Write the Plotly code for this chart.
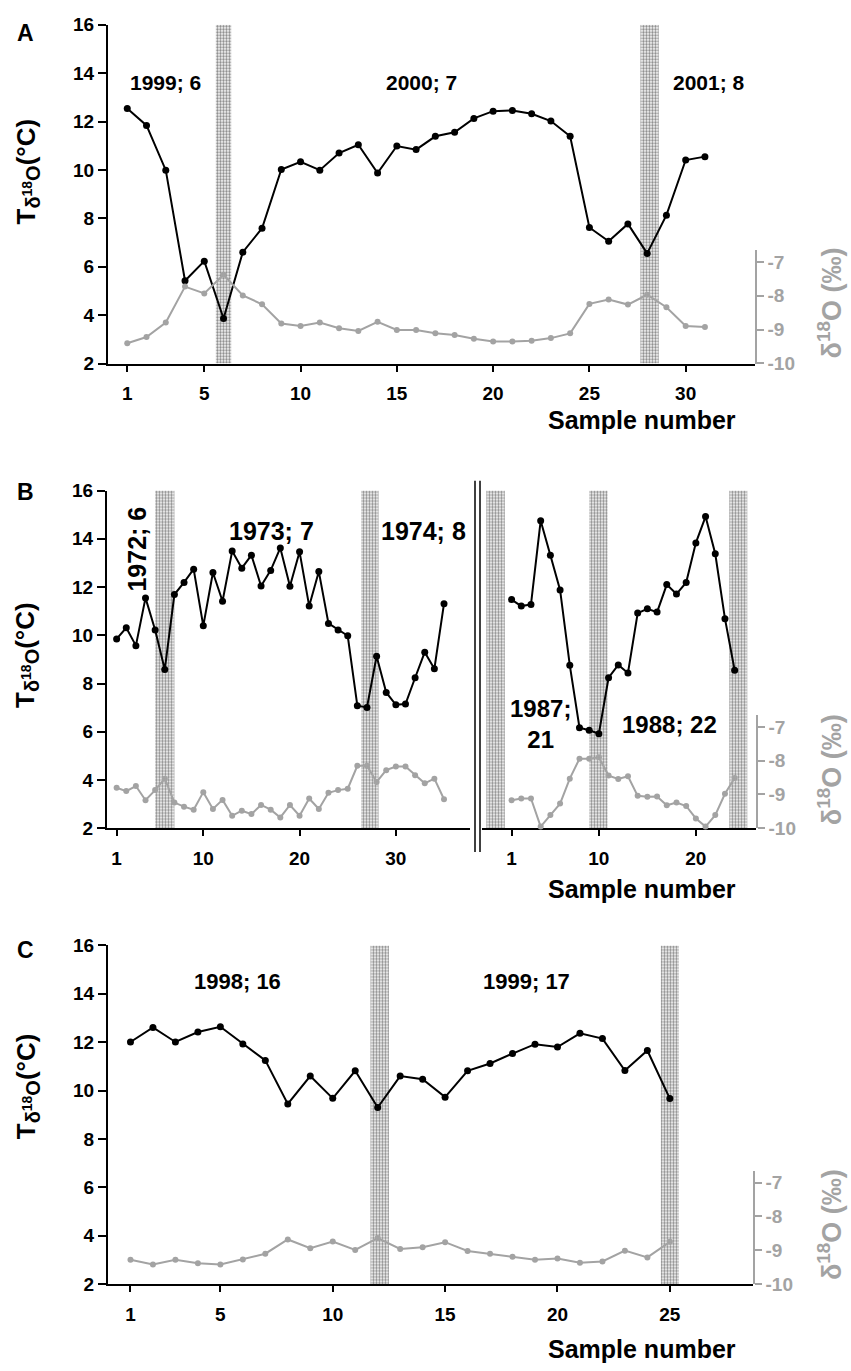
import plotly.graph_objects as go

W, H = 851, 1371
FONT = "Liberation Sans, Arial, sans-serif"
GRAY = "#a3a3a3"

# ---------------- data ----------------
# Panel A
a_samples = list(range(1, 32))
a_temp = [12.54, 11.84, 9.99, 5.42, 6.23, 3.86, 6.60, 7.59, 10.02, 10.34,
          9.99, 10.70, 11.04, 9.87, 10.99, 10.84, 11.39, 11.56, 12.13, 12.43,
          12.46, 12.32, 12.02, 11.39, 7.62, 7.05, 7.77, 6.55, 8.13, 10.41, 10.55]
a_d18o = [-9.40, -9.22, -8.79, -7.73, -7.93, -7.38, -7.99, -8.25, -8.82, -8.89,
          -8.79, -8.96, -9.04, -8.77, -9.01, -9.01, -9.11, -9.16, -9.27, -9.35,
          -9.35, -9.33, -9.25, -9.11, -8.24, -8.11, -8.26, -7.97, -8.34, -8.89, -8.92]
a_bands = [(5.6, 6.4), (27.65, 28.6)]
a_labels = ["1999; 6", "2000; 7", "2001; 8"]
a_xticks = [1, 5, 10, 15, 20, 25, 30]

# Panel B, left block
bl_samples = list(range(1, 36))
bl_temp = [9.85, 10.31, 9.57, 11.55, 10.22, 8.58, 11.69, 12.19, 12.74, 10.39,
           12.60, 11.41, 13.49, 12.78, 13.32, 12.04, 12.69, 13.62, 12.03, 13.46,
           11.21, 12.64, 10.49, 10.22, 9.98, 7.08, 7.01, 9.13, 7.63, 7.12,
           7.15, 8.24, 9.30, 8.61, 11.31]
bl_d18o = [-8.80, -8.90, -8.75, -9.17, -8.87, -8.53, -9.24, -9.36, -9.45, -8.93,
           -9.43, -9.16, -9.63, -9.48, -9.58, -9.31, -9.45, -9.68, -9.31, -9.63,
           -9.12, -9.43, -8.95, -8.87, -8.83, -8.15, -8.15, -8.63, -8.28, -8.17,
           -8.17, -8.43, -8.67, -8.53, -9.14]
bl_bands = [(5.0, 7.0), (26.4, 28.2)]
bl_labels = ["1972; 6", "1973; 7", "1974; 8"]
bl_xticks = [1, 10, 20, 30]

# Panel B, right block
br_samples = list(range(1, 25))
br_temp = [11.48, 11.21, 11.28, 14.75, 13.32, 11.88, 8.76, 6.17, 6.06, 5.92,
           8.24, 8.77, 8.44, 10.92, 11.10, 10.96, 12.10, 11.71, 12.19, 13.83,
           14.92, 13.38, 10.69, 8.55]
br_d18o = [-9.17, -9.12, -9.12, -9.95, -9.61, -9.27, -8.53, -7.94, -7.94, -7.90,
           -8.44, -8.54, -8.46, -9.04, -9.07, -9.06, -9.32, -9.24, -9.34, -9.71,
           -9.95, -9.61, -8.98, -8.51]
br_bands = [(-1.6, 0.3), (9.0, 10.9), (23.45, 25.3)]
br_labels = ["1987;<br>21", "1988; 22"]
br_xticks = [1, 10, 20]

# Panel C
c_samples = list(range(1, 26))
c_temp = [12.01, 12.61, 12.01, 12.42, 12.64, 11.93, 11.25, 9.45, 10.60, 9.68,
          10.82, 9.30, 10.60, 10.47, 9.73, 10.82, 11.12, 11.53, 11.92, 11.80,
          12.37, 12.15, 10.83, 11.66, 9.67]
c_d18o = [-9.28, -9.42, -9.28, -9.38, -9.42, -9.27, -9.10, -8.68, -8.94, -8.74,
          -8.99, -8.64, -8.96, -8.91, -8.76, -9.02, -9.10, -9.19, -9.28, -9.24,
          -9.37, -9.33, -9.01, -9.21, -8.75]
c_bands = [(11.68, 12.5), (24.6, 25.4)]
c_labels = ["1998; 16", "1999; 17"]
c_xticks = [1, 5, 10, 15, 20, 25]

t_ticks = [2, 4, 6, 8, 10, 12, 14, 16]
d_ticks = [-10, -9, -8, -7]
d_ticktext = ["-10", "-9", "-8", "-7"]
T_RANGE = [2, 16]
D_RANGE = [-10, -6.65]


# ---------------- layout helpers (pixel -> paper) ----------------
def fx(p):
    return p / W


def fy(p):
    return 1 - p / H


def t_axis(top, bottom, anchor, visible=True):
    return dict(domain=[fy(bottom), fy(top)], range=T_RANGE, anchor=anchor,
                visible=visible, showline=True, linecolor="black", linewidth=2,
                ticks="outside", ticklen=8, tickwidth=2, tickcolor="black",
                tickvals=t_ticks, showgrid=False, zeroline=False,
                tickfont=dict(family=FONT, size=19, color="black", weight="bold"))


def d_axis(top, bottom, anchor, visible=True):
    span = (bottom - top) / 10.0 * (D_RANGE[1] - D_RANGE[0])
    return dict(domain=[fy(bottom), fy(bottom - span)], range=D_RANGE,
                anchor=anchor, side="right", visible=visible,
                showline=True, linecolor=GRAY, linewidth=1.5,
                ticks="outside", ticklen=7, tickwidth=1.5, tickcolor=GRAY,
                tickvals=d_ticks, ticktext=d_ticktext,
                showgrid=False, zeroline=False,
                tickfont=dict(family=FONT, size=19, color=GRAY, weight="bold"))


def x_axis(left, right, rng, ticks, anchor):
    return dict(domain=[fx(left), fx(right)], range=rng, anchor=anchor,
                showline=True, linecolor="black", linewidth=2,
                ticks="outside", ticklen=6, tickwidth=2, tickcolor="black",
                tickvals=ticks, showgrid=False, zeroline=False,
                ticklabelstandoff=6,
                tickfont=dict(family=FONT, size=19, color="black", weight="bold"))


fig = go.Figure()


def add_bands(bands, xa, ya):
    fig.add_trace(go.Bar(
        x=[(a + b) / 2 for a, b in bands], y=[T_RANGE[1] - T_RANGE[0]] * len(bands),
        base=T_RANGE[0], width=[b - a for a, b in bands], xaxis=xa, yaxis=ya,
        marker=dict(color="white", line=dict(width=0),
                    pattern=dict(shape=".", fgcolor="#111111", bgcolor="white",
                                 size=3, solidity=0.5)),
        showlegend=False, hoverinfo="skip"))


def add_series(xs, temp, d18o, xa, ya_t, ya_d):
    fig.add_trace(go.Scatter(x=xs, y=d18o, xaxis=xa, yaxis=ya_d, mode="lines+markers",
                             line=dict(color=GRAY, width=2),
                             marker=dict(color=GRAY, size=6), cliponaxis=False,
                             showlegend=False))
    fig.add_trace(go.Scatter(x=xs, y=temp, xaxis=xa, yaxis=ya_t, mode="lines+markers",
                             line=dict(color="black", width=2),
                             marker=dict(color="black", size=7), cliponaxis=False,
                             showlegend=False))


# Panel A
add_bands(a_bands, "x", "y")
add_series(a_samples, a_temp, a_d18o, "x", "y", "y2")
# Panel B left
add_bands(bl_bands, "x2", "y3")
add_series(bl_samples, bl_temp, bl_d18o, "x2", "y3", "y4")
# Panel B right
add_bands(br_bands, "x3", "y5")
add_series(br_samples, br_temp, br_d18o, "x3", "y5", "y6")
# Panel C
add_bands(c_bands, "x4", "y7")
add_series(c_samples, c_temp, c_d18o, "x4", "y7", "y8")

fig.update_layout(
    width=W, height=H, margin=dict(l=0, r=0, t=0, b=0),
    paper_bgcolor="white", plot_bgcolor="rgba(0,0,0,0)", showlegend=False,
    font=dict(family=FONT, color="black"),
    xaxis=x_axis(108, 755, [0, 33.6], a_xticks, "y"),
    yaxis=t_axis(15, 359, "x"),
    yaxis2=d_axis(15, 359, "x"),
    xaxis2=x_axis(107, 470, [0, 37.7], bl_xticks, "y3"),
    yaxis3=t_axis(488, 831, "x2"),
    yaxis4=d_axis(488, 831, "x2", visible=False),
    xaxis3=x_axis(482, 756, [-2.05, 26.2], br_xticks, "y5"),
    yaxis5=t_axis(488, 831, "x3", visible=False),
    yaxis6=d_axis(488, 831, "x3"),
    xaxis4=x_axis(108, 753, [0, 28.7], c_xticks, "y7"),
    yaxis7=t_axis(950, 1294, "x4"),
    yaxis8=d_axis(950, 1294, "x4"),
)

ann = []


def label(text, x, y, xref, yref, size, angle=0, color="black"):
    ann.append(dict(text=text, x=x, y=y, xref=xref, yref=yref, showarrow=False,
                    textangle=angle, xanchor="center", yanchor="middle",
                    font=dict(family=FONT, size=size, color=color, weight="bold")))


# period labels
for t, x in zip(a_labels, [2.96, 16.26, 31.2]):
    label(t, x, 13.63, "x", "y", 21)
label(bl_labels[0], 3.08, 13.58, "x2", "y3", 25, angle=-90)
label(bl_labels[1], 17.05, 14.33, "x2", "y3", 25)
label(bl_labels[2], 32.9, 14.33, "x2", "y3", 25)
label(br_labels[0], 4.02, 6.33, "x3", "y5", 24)
label(br_labels[1], 17.24, 6.30, "x3", "y5", 24)
for t, x in zip(c_labels, [5.77, 18.62]):
    label(t, x, 14.49, "x4", "y7", 22)

# panel letters
for t, py in zip(["A", "B", "C"], [23, 490, 955]):
    label(t, fx(25), fy(py), "paper", "paper", 23)

# axis titles
y_title = ("T<sub><span style='font-size:20px'>δ<sup>18</sup>O</span></sub>"
           "(°C)")
d_title = "δ<sup>18</sup>O (‰)"
for py in [164, 655, 1093]:
    label(y_title, fx(27), fy(py), "paper", "paper", 26, angle=-90)
for py in [298, 772, 1234]:
    label(d_title, fx(830), fy(py), "paper", "paper", 27, angle=-90, color=GRAY)
for py in [416, 893, 1360]:
    label("Sample number", fx(642), fy(py), "paper", "paper", 25)

fig.update_layout(annotations=ann)

# double break line between the two blocks of panel B
for px in [475, 480]:
    fig.add_shape(type="line", xref="paper", yref="paper",
                  x0=fx(px), x1=fx(px), y0=fy(478), y1=fy(855),
                  line=dict(color="black", width=1.5))

fig.write_html("out.html")
